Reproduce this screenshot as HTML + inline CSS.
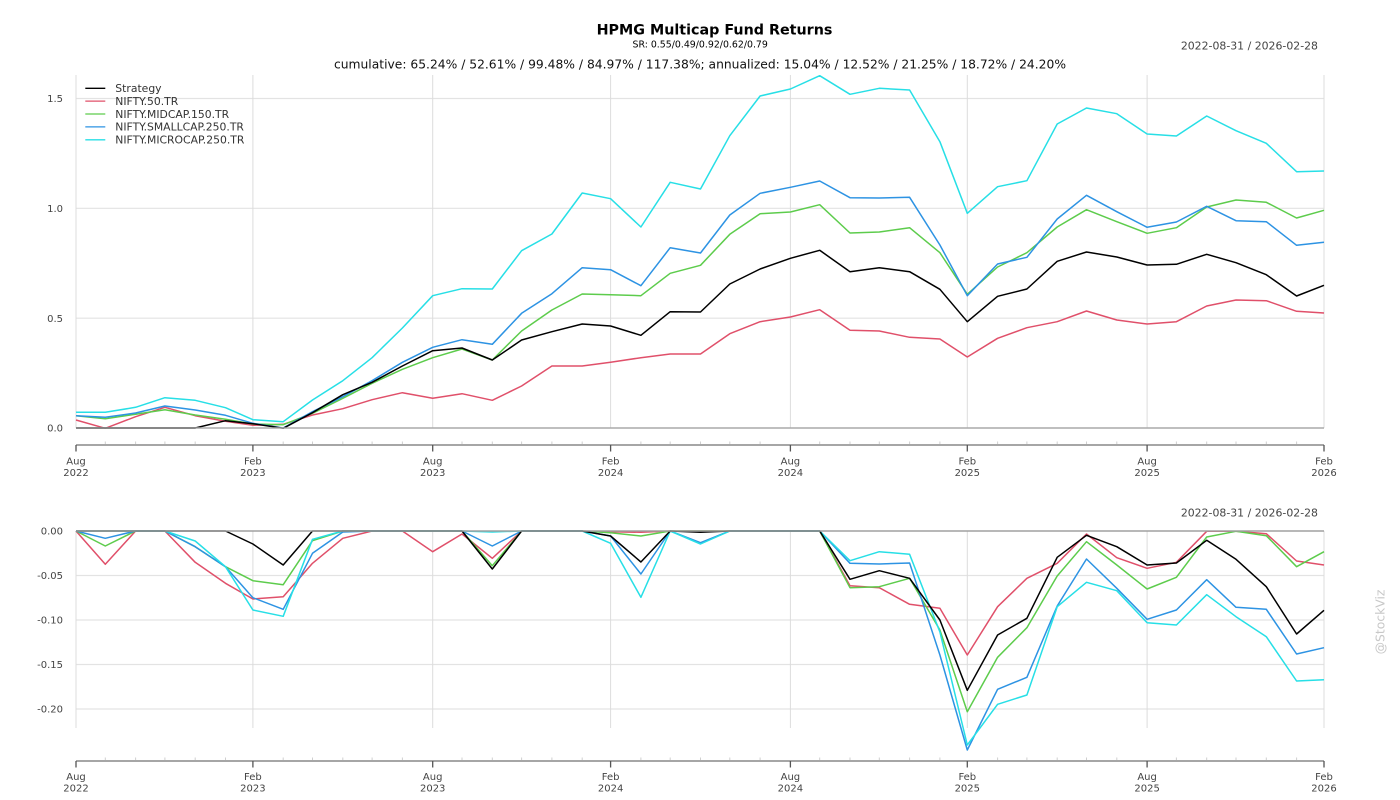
<!DOCTYPE html>
<html><head><meta charset="utf-8"><style>
html,body{margin:0;padding:0;background:#fff;}
svg{display:block;font-family:"DejaVu Sans","Liberation Sans",sans-serif;}
</style></head><body>
<svg width="1400" height="800" viewBox="0 0 1400 800" xmlns="http://www.w3.org/2000/svg">
<rect width="1400" height="800" fill="#fff"/>
<!-- Titles -->
<text x="714.5" y="34.3" font-size="14.3" font-weight="bold" text-anchor="middle" fill="#000">HPMG Multicap Fund Returns</text>
<text x="700.2" y="47.6" font-size="9.4" text-anchor="middle" fill="#000">SR: 0.55/0.49/0.92/0.62/0.79</text>
<text x="700" y="68.3" font-size="12.3" text-anchor="middle" fill="#111">cumulative: 65.24% / 52.61% / 99.48% / 84.97% / 117.38%; annualized: 15.04% / 12.52% / 21.25% / 18.72% / 24.20%</text>
<text x="1318" y="49.5" font-size="10.9" text-anchor="end" fill="#444">2022-08-31 / 2026-02-28</text>
<text x="1318" y="516.5" font-size="10.9" text-anchor="end" fill="#444">2022-08-31 / 2026-02-28</text>

<!-- TOP CHART grid -->
<g stroke="#e3e3e3" stroke-width="1.2" fill="none">
<line x1="76" y1="98.5" x2="1324" y2="98.5"/>
<line x1="76" y1="208.3" x2="1324" y2="208.3"/>
<line x1="76" y1="318.2" x2="1324" y2="318.2"/>
</g>
<g stroke="#dcdcdc" stroke-width="1" fill="none">
<line x1="76" y1="75" x2="76" y2="428"/>
<line x1="252.9" y1="75" x2="252.9" y2="428"/>
<line x1="432.7" y1="75" x2="432.7" y2="428"/>
<line x1="610.6" y1="75" x2="610.6" y2="428"/>
<line x1="790.4" y1="75" x2="790.4" y2="428"/>
<line x1="967.3" y1="75" x2="967.3" y2="428"/>
<line x1="1147.1" y1="75" x2="1147.1" y2="428"/>
<line x1="1324" y1="75" x2="1324" y2="428"/>
</g>
<g font-size="10" fill="#444" text-anchor="end">
<text x="63" y="102.1">1.5</text>
<text x="63" y="211.9">1.0</text>
<text x="63" y="321.8">0.5</text>
<text x="63" y="431.6">0.0</text>
</g>

<!-- TOP series -->
<g fill="none" stroke-width="1.5" stroke-linejoin="round">
<polyline stroke="#e0506a" points="76,420 105.3,428.3 135.6,416.7 164.9,407.3 195.2,415.7 225.5,421.3 252.9,425.3 283.2,424.3 312.5,415 342.8,408.7 372.1,399.7 402.4,392.7 432.7,398.3 462,393.7 492.3,400.3 521.6,386 551.9,366 582.2,366 610.6,362.3 640.9,357.7 670.2,354 700.5,354 729.8,333.7 760.1,321.7 790.4,317 819.7,309.7 850,330.3 879.3,331 909.6,337.3 939.9,339 967.3,357 997.6,338.3 1026.9,327.7 1057.2,321.7 1086.5,311 1116.8,320 1147.1,324 1176.4,321.7 1206.7,306 1236,300 1266.3,300.7 1296.6,311.3 1324,313"/>
<polyline stroke="#5dcc4c" points="76,415.7 105.3,418.7 135.6,414.3 164.9,409.7 195.2,415 225.5,419.3 252.9,424 283.2,424.7 312.5,413.3 342.8,398.3 372.1,383.3 402.4,369.3 432.7,357.7 462,349 492.3,360 521.6,331 551.9,310 582.2,294 610.6,294.7 640.9,295.7 670.2,273.3 700.5,265.3 729.8,234.3 760.1,213.7 790.4,212 819.7,204.7 850,233 879.3,232 909.6,227.7 939.9,252.7 967.3,294.3 997.6,267 1026.9,252.7 1057.2,227 1086.5,209.7 1116.8,221.7 1147.1,233.3 1176.4,227.7 1206.7,207 1236,200 1266.3,202.3 1296.6,218 1324,210.3"/>
<polyline stroke="#2d93e3" points="76,415.7 105.3,417.3 135.6,413 164.9,406 195.2,410 225.5,415.3 252.9,423.3 283.2,428 312.5,411.7 342.8,396.7 372.1,380.7 402.4,362.3 432.7,347.3 462,339.7 492.3,344.3 521.6,313.3 551.9,293.7 582.2,267.7 610.6,269.7 640.9,285.7 670.2,247.7 700.5,253 729.8,215 760.1,193.3 790.4,187.3 819.7,181 850,197.7 879.3,198 909.6,197.3 939.9,245 967.3,295.7 997.6,264 1026.9,257.3 1057.2,219 1086.5,195.3 1116.8,211.7 1147.1,227.3 1176.4,222 1206.7,206.3 1236,220.7 1266.3,221.7 1296.6,245.3 1324,242.3"/>
<polyline stroke="#27dfe6" points="76,412.3 105.3,412.3 135.6,407.3 164.9,397.7 195.2,400.3 225.5,407.7 252.9,419.7 283.2,421.7 312.5,400 342.8,380.7 372.1,357.7 402.4,328 432.7,295.7 462,288.7 492.3,289 521.6,250.7 551.9,234 582.2,193 610.6,198.7 640.9,227 670.2,182.3 700.5,189 729.8,135.7 760.1,96 790.4,89 819.7,75.7 850,94.3 879.3,88.3 909.6,90 939.9,141.7 967.3,213.3 997.6,186.7 1026.9,180.7 1057.2,124 1086.5,108 1116.8,113.7 1147.1,134 1176.4,136 1206.7,116 1236,130.7 1266.3,143.3 1296.6,171.7 1324,171"/>
<polyline stroke="#000" points="76,428 105.3,428 135.6,428 164.9,428 195.2,428 225.5,420.7 252.9,423.7 283.2,428.3 312.5,412.7 342.8,394.7 372.1,382.3 402.4,366 432.7,350.7 462,348 492.3,360 521.6,340 551.9,331.7 582.2,324 610.6,326 640.9,335.3 670.2,311.7 700.5,312 729.8,284 760.1,269 790.4,258.3 819.7,250.3 850,271.7 879.3,267.7 909.6,271.7 939.9,289.3 967.3,321.7 997.6,296.3 1026.9,289 1057.2,261.3 1086.5,252 1116.8,257 1147.1,265 1176.4,264.3 1206.7,254.3 1236,262.7 1266.3,274.7 1296.6,296 1324,285.3"/>
</g>
<line x1="76" y1="428" x2="195.2" y2="428" stroke="#888" stroke-width="1.8"/>
<line x1="195.2" y1="428" x2="1324" y2="428" stroke="#aaa" stroke-width="1.5"/>

<!-- Legend -->
<g stroke-width="1.3">
<line x1="85.3" y1="88.3" x2="105.3" y2="88.3" stroke="#000"/>
<line x1="85.3" y1="101.1" x2="105.3" y2="101.1" stroke="#e0506a"/>
<line x1="85.3" y1="114" x2="105.3" y2="114" stroke="#5dcc4c"/>
<line x1="85.3" y1="126.9" x2="105.3" y2="126.9" stroke="#2d93e3"/>
<line x1="85.3" y1="139.8" x2="105.3" y2="139.8" stroke="#27dfe6"/>
</g>
<g font-size="10.8" fill="#333">
<text x="115.3" y="92.1">Strategy</text>
<text x="115.3" y="104.9">NIFTY.50.TR</text>
<text x="115.3" y="117.8">NIFTY.MIDCAP.150.TR</text>
<text x="115.3" y="130.7">NIFTY.SMALLCAP.250.TR</text>
<text x="115.3" y="143.6">NIFTY.MICROCAP.250.TR</text>
</g>

<!-- TOP x-axis -->
<line x1="76" y1="445" x2="1324" y2="445" stroke="#999" stroke-width="1.8"/>
<g stroke="#cfcfcf" stroke-width="1">
<path d="M105.3 441.5V444 M135.6 441.5V444 M164.9 441.5V444 M195.2 441.5V444 M225.5 441.5V444 M283.2 441.5V444 M312.5 441.5V444 M342.8 441.5V444 M372.1 441.5V444 M402.4 441.5V444 M462 441.5V444 M492.3 441.5V444 M521.6 441.5V444 M551.9 441.5V444 M582.2 441.5V444 M640.9 441.5V444 M670.2 441.5V444 M700.5 441.5V444 M729.8 441.5V444 M760.1 441.5V444 M819.7 441.5V444 M850 441.5V444 M879.3 441.5V444 M909.6 441.5V444 M939.9 441.5V444 M997.6 441.5V444 M1026.9 441.5V444 M1057.2 441.5V444 M1086.5 441.5V444 M1116.8 441.5V444 M1176.4 441.5V444 M1206.7 441.5V444 M1236 441.5V444 M1266.3 441.5V444 M1296.6 441.5V444"/>
</g>
<g stroke="#555" stroke-width="1.3">
<path d="M76 445V451.5 M252.9 445V451.5 M432.7 445V451.5 M610.6 445V451.5 M790.4 445V451.5 M967.3 445V451.5 M1147.1 445V451.5 M1324 445V451.5"/>
</g>
<g font-size="10" fill="#444" text-anchor="middle">
<text x="76" y="464.3">Aug</text><text x="76" y="476">2022</text>
<text x="252.9" y="464.3">Feb</text><text x="252.9" y="476">2023</text>
<text x="432.7" y="464.3">Aug</text><text x="432.7" y="476">2023</text>
<text x="610.6" y="464.3">Feb</text><text x="610.6" y="476">2024</text>
<text x="790.4" y="464.3">Aug</text><text x="790.4" y="476">2024</text>
<text x="967.3" y="464.3">Feb</text><text x="967.3" y="476">2025</text>
<text x="1147.1" y="464.3">Aug</text><text x="1147.1" y="476">2025</text>
<text x="1324" y="464.3">Feb</text><text x="1324" y="476">2026</text>
</g>

<!-- BOTTOM CHART grid -->
<g stroke="#e3e3e3" stroke-width="1.2" fill="none">
<line x1="76" y1="575.5" x2="1324" y2="575.5"/>
<line x1="76" y1="620" x2="1324" y2="620"/>
<line x1="76" y1="664.5" x2="1324" y2="664.5"/>
<line x1="76" y1="709" x2="1324" y2="709"/>
</g>
<g stroke="#dcdcdc" stroke-width="1" fill="none">
<line x1="76" y1="531" x2="76" y2="728"/>
<line x1="252.9" y1="531" x2="252.9" y2="728"/>
<line x1="432.7" y1="531" x2="432.7" y2="728"/>
<line x1="610.6" y1="531" x2="610.6" y2="728"/>
<line x1="790.4" y1="531" x2="790.4" y2="728"/>
<line x1="967.3" y1="531" x2="967.3" y2="728"/>
<line x1="1147.1" y1="531" x2="1147.1" y2="728"/>
<line x1="1324" y1="531" x2="1324" y2="728"/>
</g>
<g font-size="10" fill="#444" text-anchor="end">
<text x="63" y="534.6">0.00</text>
<text x="63" y="579.1">-0.05</text>
<text x="63" y="623.6">-0.10</text>
<text x="63" y="668.1">-0.15</text>
<text x="63" y="712.6">-0.20</text>
</g>

<!-- BOTTOM series -->
<g fill="none" stroke-width="1.5" stroke-linejoin="round">
<polyline stroke="#e0506a" points="76,531 105.3,564.3 135.6,531 164.9,531 195.2,562.3 225.5,583.3 252.9,599 283.2,596.7 312.5,563.3 342.8,538.3 372.1,531 402.4,531 432.7,551.7 462,534 492.3,558.3 521.6,531 551.9,531 582.2,531 610.6,531.7 640.9,532.3 670.2,531 700.5,531 729.8,531 760.1,531 790.4,531 819.7,531 850,585.7 879.3,587.7 909.6,604.3 939.9,608.3 967.3,655 997.6,606.7 1026.9,578.3 1057.2,563.3 1086.5,534 1116.8,557.7 1147.1,568.3 1176.4,562.3 1206.7,531.3 1236,531.3 1266.3,533.7 1296.6,561 1324,565"/>
<polyline stroke="#5dcc4c" points="76,531 105.3,546 135.6,531 164.9,531 195.2,546.7 225.5,566.7 252.9,580.7 283.2,584.7 312.5,540.7 342.8,531 372.1,531 402.4,531 432.7,531 462,531 492.3,565.7 521.6,531 551.9,531 582.2,531 610.6,532.7 640.9,536 670.2,531 700.5,531 729.8,531 760.1,531 790.4,531 819.7,531 850,587.7 879.3,586.7 909.6,578.3 939.9,630 967.3,711.7 997.6,657.3 1026.9,627.7 1057.2,576 1086.5,541.7 1116.8,565 1147.1,589 1176.4,577.3 1206.7,537 1236,531.3 1266.3,535.7 1296.6,566.7 1324,551.7"/>
<polyline stroke="#2d93e3" points="76,531 105.3,538.3 135.6,531 164.9,531 195.2,546.7 225.5,566.7 252.9,597.7 283.2,609.3 312.5,553.3 342.8,532 372.1,531 402.4,531 432.7,531 462,531 492.3,546 521.6,531 551.9,531 582.2,531 610.6,536 640.9,574 670.2,531 700.5,542.7 729.8,531 760.1,531 790.4,531 819.7,531 850,563.3 879.3,564 909.6,563 939.9,655 967.3,750 997.6,689.3 1026.9,677.3 1057.2,606 1086.5,559 1116.8,588.3 1147.1,619.3 1176.4,610 1206.7,579.7 1236,607.3 1266.3,609.3 1296.6,654 1324,647.7"/>
<polyline stroke="#27dfe6" points="76,531 105.3,531 135.6,531 164.9,531 195.2,541 225.5,566.7 252.9,610 283.2,616.3 312.5,539.3 342.8,531 372.1,531 402.4,531 432.7,531 462,531 492.3,532 521.6,531 551.9,531 582.2,531 610.6,543.3 640.9,597.3 670.2,531 700.5,544 729.8,531 760.1,531 790.4,531 819.7,531 850,560.7 879.3,551.7 909.6,554.3 939.9,632 967.3,745 997.6,704.3 1026.9,695 1057.2,606.7 1086.5,582.3 1116.8,590.7 1147.1,622.7 1176.4,625 1206.7,594.7 1236,616.7 1266.3,636.7 1296.6,681 1324,679.7"/>
<polyline stroke="#000" points="76,531 105.3,531 135.6,531 164.9,531 195.2,531 225.5,531 252.9,544 283.2,565 312.5,531 342.8,531 372.1,531 402.4,531 432.7,531 462,531 492.3,569 521.6,531 551.9,531 582.2,531 610.6,536 640.9,562 670.2,531 700.5,532.3 729.8,531 760.1,531 790.4,531 819.7,531 850,579.3 879.3,570.7 909.6,578.3 939.9,620 967.3,690.3 997.6,635 1026.9,618.3 1057.2,557.3 1086.5,535.3 1116.8,546.7 1147.1,565 1176.4,563 1206.7,540.3 1236,559.3 1266.3,586.7 1296.6,634 1324,610.3"/>
</g>
<line x1="76" y1="531" x2="1324" y2="531" stroke="#a0a0a0" stroke-width="1.6"/>

<!-- BOTTOM x-axis -->
<line x1="76" y1="761" x2="1324" y2="761" stroke="#999" stroke-width="1.8"/>
<g stroke="#cfcfcf" stroke-width="1">
<path d="M105.3 757.5V760 M135.6 757.5V760 M164.9 757.5V760 M195.2 757.5V760 M225.5 757.5V760 M283.2 757.5V760 M312.5 757.5V760 M342.8 757.5V760 M372.1 757.5V760 M402.4 757.5V760 M462 757.5V760 M492.3 757.5V760 M521.6 757.5V760 M551.9 757.5V760 M582.2 757.5V760 M640.9 757.5V760 M670.2 757.5V760 M700.5 757.5V760 M729.8 757.5V760 M760.1 757.5V760 M819.7 757.5V760 M850 757.5V760 M879.3 757.5V760 M909.6 757.5V760 M939.9 757.5V760 M997.6 757.5V760 M1026.9 757.5V760 M1057.2 757.5V760 M1086.5 757.5V760 M1116.8 757.5V760 M1176.4 757.5V760 M1206.7 757.5V760 M1236 757.5V760 M1266.3 757.5V760 M1296.6 757.5V760"/>
</g>
<g stroke="#555" stroke-width="1.3">
<path d="M76 761V767.5 M252.9 761V767.5 M432.7 761V767.5 M610.6 761V767.5 M790.4 761V767.5 M967.3 761V767.5 M1147.1 761V767.5 M1324 761V767.5"/>
</g>
<g font-size="10" fill="#444" text-anchor="middle">
<text x="76" y="780">Aug</text><text x="76" y="791.5">2022</text>
<text x="252.9" y="780">Feb</text><text x="252.9" y="791.5">2023</text>
<text x="432.7" y="780">Aug</text><text x="432.7" y="791.5">2023</text>
<text x="610.6" y="780">Feb</text><text x="610.6" y="791.5">2024</text>
<text x="790.4" y="780">Aug</text><text x="790.4" y="791.5">2024</text>
<text x="967.3" y="780">Feb</text><text x="967.3" y="791.5">2025</text>
<text x="1147.1" y="780">Aug</text><text x="1147.1" y="791.5">2025</text>
<text x="1324" y="780">Feb</text><text x="1324" y="791.5">2026</text>
</g>

<!-- watermark -->
<text x="0" y="0" font-size="12.4" fill="#c8c8c8" text-anchor="middle" transform="translate(1384.5,622) rotate(-90)">@StockViz</text>
</svg>
</body></html>
